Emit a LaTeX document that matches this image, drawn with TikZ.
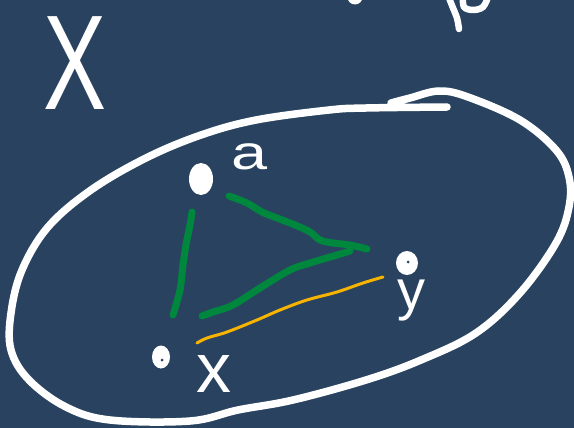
\documentclass[tikz,border=0pt]{standalone}
\usepackage{fontspec}
\setmainfont{Liberation Sans}
\usetikzlibrary{shapes.geometric}
\definecolor{bg}{RGB}{40,66,96}
\definecolor{pengreen}{RGB}{0,135,62}
\definecolor{penyellow}{RGB}{246,180,0}
\begin{document}
\begin{tikzpicture}[x=1pt,y=-1pt,
  pen/.style={white,line width=7.5pt,line cap=round,line join=round},
  greenpen/.style={pengreen,line width=7pt,line cap=round,line join=round},
  yellowpen/.style={penyellow,line width=3pt,line cap=round,line join=round},
  dotnode/.style={ellipse,fill=white,draw=none,inner sep=0pt},
  label/.style={text=white,inner sep=0pt}]
\fill[bg] (0,0) rectangle (574,428);
\useasboundingbox (0,0) rectangle (574,428);

% partial marks at the top edge
\fill[white] (355,-3) circle (7.5pt);
\draw[pen,line width=6.5pt] plot[smooth,tension=0.6] coordinates {(449,-2) (453,8) (457,18) (459,29)};
\draw[pen,line width=6.5pt] plot[smooth,tension=0.6] coordinates {(463,-3) (464,7) (473,10) (483,7) (488,-3)};

% set label
\node[label,anchor=base,font=\fontsize{135}{135}\selectfont] (setX) at (75,110) {\scalebox{0.7}[1]{X}};

% outline of the set
\draw[pen] plot[smooth,tension=0.6] coordinates {(447,107) (366,108) (329,110) (256,120) (201,135) (146,158) (91,190) (48,227) (22,270) (11,313) (11,350) (29,380) (66,407) (110,420) (190,421) (238,410) (293,400) (366,380) (421,360) (476,333) (520,293) (556,243) (569,207) (569,177) (556,150) (520,120) (468,97) (439,91) (410,98) (391,103)};

% points
\node[dotnode,minimum width=24pt,minimum height=32pt] (pa) at (201,179) {};
\node[dotnode,minimum width=22pt,minimum height=24pt] (py) at (407,263) {};
\node[dotnode,minimum width=18pt,minimum height=23pt] (px) at (161,357) {};
\fill[bg] (408,262) circle (1.5pt);
\fill[bg] (162,360) circle (1.5pt);

% point labels
\node[label,anchor=base,font=\fontsize{48}{48}\selectfont] (la) at (250,170) {\scalebox{1.35}[1]{a}};
\node[label,anchor=base,font=\fontsize{56}{56}\selectfont] (ly) at (411,309) {y};
\node[label,anchor=base,font=\fontsize{70}{70}\selectfont] (lx) at (214,392) {x};

% green triangle
\draw[greenpen] plot[smooth,tension=0.6] coordinates {(192,212) (190,225) (186,245) (183,265) (180,290) (173,315)};
\draw[greenpen] plot[smooth,tension=0.6] coordinates {(229,196) (247,203) (262,212) (277,218) (295,225) (310,232) (320,240) (333,243) (350,245) (367,249)};
\draw[greenpen] plot[smooth,tension=0.6] coordinates {(350,251) (337,255) (310,263) (290,270) (260,288) (233,305) (213,312) (202,316)};

% yellow segment
\draw[yellowpen] plot[smooth,tension=0.6] coordinates {(383,277) (363,283) (337,292) (307,300) (280,310) (257,320) (227,332) (207,338) (197,343)};
\end{tikzpicture}
\end{document}
